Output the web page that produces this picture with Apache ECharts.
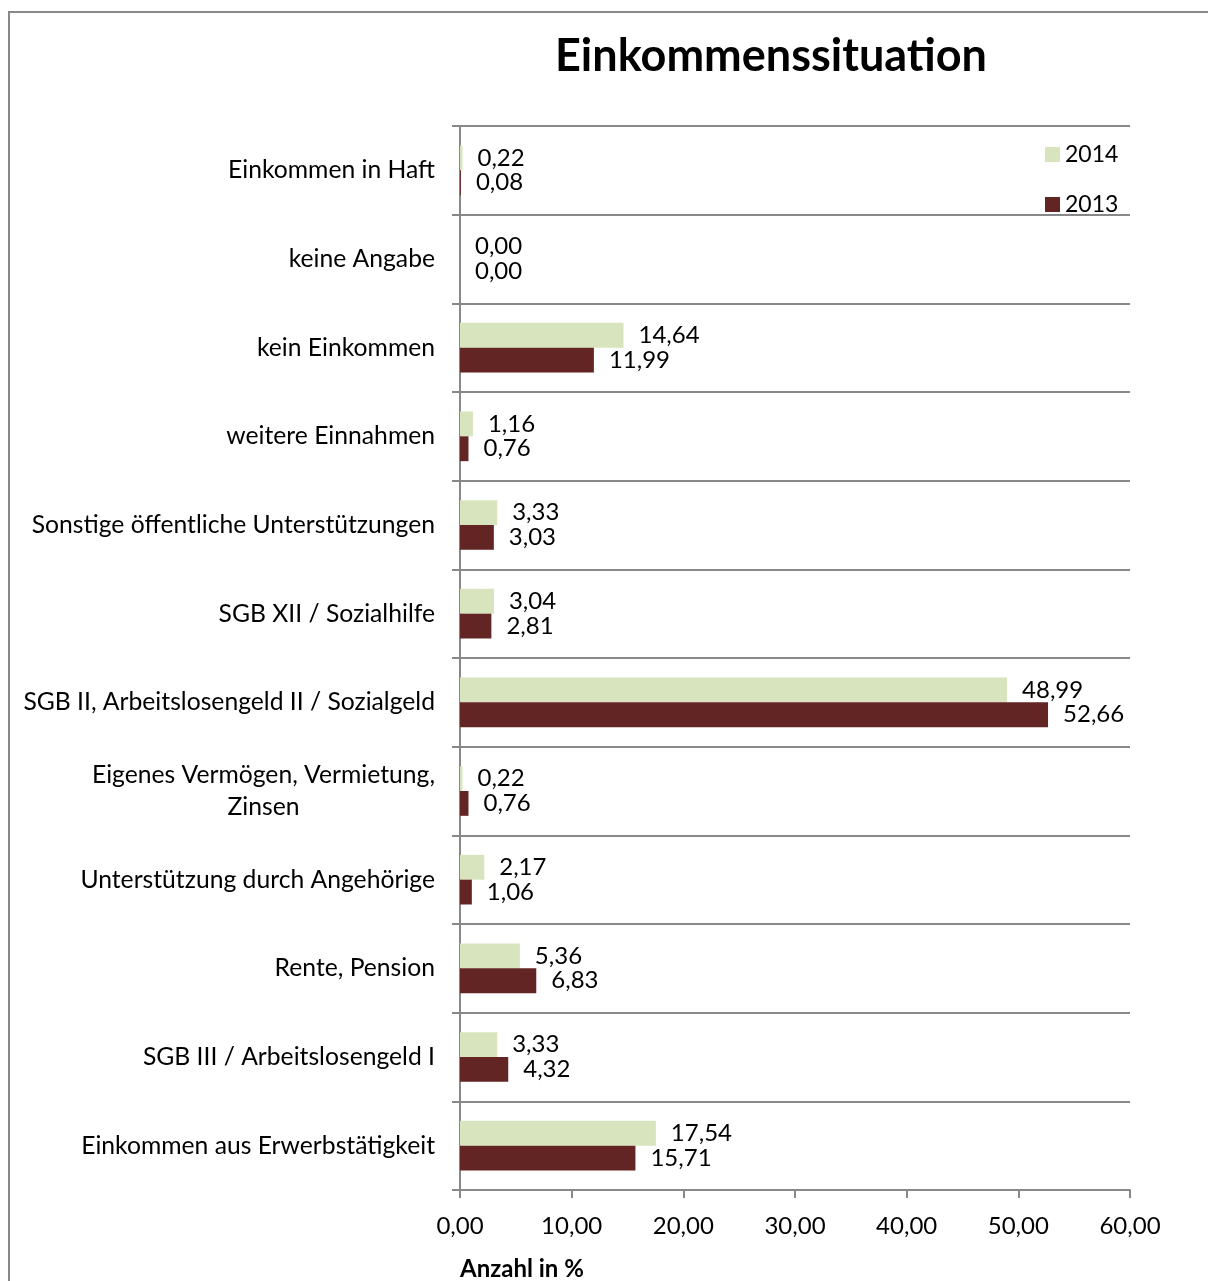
<!DOCTYPE html>
<html>
<head>
<meta charset="utf-8">
<script src="https://cdn.jsdelivr.net/npm/echarts@6/dist/echarts.min.js"></script>
<style>html,body{margin:0;padding:0;background:#fff;}#c{width:1208px;height:1281px;}</style>
</head>
<body>
<div id="c"></div>
<script>
const categories = ['Einkommen aus Erwerbstätigkeit', 'SGB III / Arbeitslosengeld I', 'Rente, Pension', 'Unterstützung durch Angehörige', 'Eigenes Vermögen, Vermietung,\nZinsen', 'SGB II, Arbeitslosengeld II / Sozialgeld', 'SGB XII / Sozialhilfe', 'Sonstige öffentliche Unterstützungen', 'weitere Einnahmen', 'kein Einkommen', 'keine Angabe', 'Einkommen in Haft'];
const values2014 = [17.54, 3.33, 5.36, 2.17, 0.22, 48.99, 3.04, 3.33, 1.16, 14.64, 0.00, 0.22];
const values2013 = [15.71, 4.32, 6.83, 1.06, 0.76, 52.66, 2.81, 3.03, 0.76, 11.99, 0.00, 0.08];
const xTicks = [0, 10, 20, 30, 40, 50, 60];

const FONT = 'Lato';
const FS = 24;
const CFS = 24.7;
const fmt = v => v.toFixed(2).replace('.', ',');
const chart = echarts.init(document.getElementById('c'));
const labelCfg = {
  show: true, position: 'right', distance: 15,
  color: '#000', fontFamily: FONT, fontSize: FS,
  formatter: p => fmt(p.value)
};
chart.setOption({
  animation: false,
  backgroundColor: '#fff',
  title: [{
    text: 'Einkommenssituation', left: 550, top: 29,
    textStyle: { fontFamily: FONT, fontWeight: 'bold', fontSize: 45, color: '#000' }
  }, {
    text: 'Anzahl in %', left: 455, top: 1252,
    textStyle: { fontFamily: FONT, fontWeight: 'bold', fontSize: 24, color: '#000' }
  }],
  graphic: [{
    type: 'rect', shape: { x: 9, y: 12, width: 1400, height: 1400 },
    style: { fill: 'none', stroke: '#888', lineWidth: 2 }, silent: true
  }],
  legend: {
    data: ['2014', '2013'], orient: 'vertical', left: 1040, top: 138,
    itemWidth: 15, itemHeight: 15, itemGap: 27, icon: 'rect',
    textStyle: { fontFamily: FONT, fontSize: 23, color: '#000' }
  },
  grid: { left: 460, right: 78, top: 126, bottom: 91, containLabel: false },
  xAxis: {
    type: 'value', min: xTicks[0], max: xTicks[xTicks.length - 1], interval: 10,
    axisLine: { show: true, lineStyle: { color: '#888', width: 2 } },
    axisTick: { show: true, length: 8, lineStyle: { color: '#888', width: 2 } },
    splitLine: { show: false },
    axisLabel: { margin: 24, color: '#000', fontFamily: FONT, fontSize: FS, formatter: v => fmt(v) }
  },
  yAxis: {
    type: 'category', data: categories,
    axisLine: { show: true, lineStyle: { color: '#888', width: 2 } },
    axisTick: { show: true, length: 8, lineStyle: { color: '#888', width: 2 } },
    splitLine: { show: true, lineStyle: { color: '#888', width: 2 } },
    axisLabel: {
      margin: 25, color: '#000', fontFamily: FONT, fontSize: CFS, lineHeight: 32,
      formatter: v => '{a|' + v + '}',
      rich: { a: { align: 'center', fontFamily: FONT, fontSize: CFS, color: '#000', lineHeight: 32 } }
    }
  },
  series: [{
    name: '2014', type: 'bar', data: values2014, barGap: '0%', barCategoryGap: '44%',
    itemStyle: { color: '#D7E4BD' }, label: labelCfg
  }, {
    name: '2013', type: 'bar', data: values2013, barGap: '0%', barCategoryGap: '44%',
    itemStyle: { color: '#632523' }, label: labelCfg
  }]
});
</script>
</body>
</html>
